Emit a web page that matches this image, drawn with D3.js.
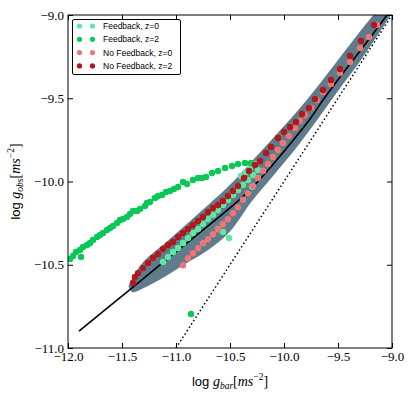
<!DOCTYPE html>
<html>
<head>
<meta charset="utf-8">
<title>RAR feedback</title>
<script src="https://d3js.org/d3.v7.min.js"></script>
<style>
  body { margin: 0; background: #fff; }
  .tick line { stroke: #000; }
</style>
</head>
<body>
<div id="chart"></div>
<script>
// series, [log gbar, log gobs]
var fbZ0 = [[-11.120,-10.483],[-11.074,-10.453],[-11.028,-10.423],[-10.981,-10.399],[-10.935,-10.369],
  [-10.889,-10.339],[-10.843,-10.309],[-10.796,-10.285],[-10.750,-10.255],[-10.704,-10.225],
  [-10.657,-10.201],[-10.611,-10.171],[-10.565,-10.141],[-10.519,-10.111],[-10.472,-10.081],
  [-10.426,-10.051],[-10.380,-10.021],[-10.333,-9.991],[-10.287,-9.961],[-10.241,-9.931],
  [-10.398,-9.967],[-10.352,-9.943],[-10.315,-9.919],[-10.269,-9.895],
  [-10.611,-10.285],[-10.565,-10.303],[-10.509,-10.339],[-10.296,-10.033]];

var fbZ2 = [[-11.981,-10.465],[-11.954,-10.447],[-11.926,-10.423],[-11.889,-10.411],[-11.861,-10.393],
  [-11.824,-10.381],[-11.796,-10.369],[-11.769,-10.351],[-11.731,-10.333],[-11.704,-10.321],
  [-11.676,-10.309],[-11.639,-10.291],[-11.611,-10.279],[-11.583,-10.267],[-11.546,-10.249],
  [-11.519,-10.231],[-11.491,-10.225],[-11.454,-10.213],[-11.426,-10.195],[-11.398,-10.177],
  [-11.361,-10.177],[-11.333,-10.165],[-11.287,-10.147],[-11.269,-10.129],[-11.241,-10.123],
  [-11.194,-10.099],[-11.167,-10.087],[-11.130,-10.081],[-11.093,-10.063],[-11.056,-10.057],
  [-11.019,-10.045],[-10.981,-10.033],[-10.935,-10.003],[-10.898,-10.015],[-10.843,-9.991],
  [-10.796,-9.979],[-10.759,-9.979],[-10.722,-9.973],[-10.667,-9.949],[-10.611,-9.937],
  [-10.546,-9.919],[-10.481,-9.907],[-10.426,-9.895],[-10.361,-9.889],[-10.306,-9.889],
  [-11.880,-10.453],[-10.861,-10.796]];

var nofbZ0 = [[-10.935,-10.503],[-10.889,-10.461],[-10.843,-10.431],[-10.796,-10.401],[-10.750,-10.371],
  [-10.704,-10.347],[-10.657,-10.317],[-10.611,-10.287],[-10.565,-10.257],[-10.519,-10.227],
  [-10.472,-10.191],[-10.426,-10.155],[-10.380,-10.110],[-10.333,-10.070],[-10.287,-10.027],
  [-10.241,-9.979],[-10.194,-9.937],[-10.148,-9.895],[-10.102,-9.853],[-10.056,-9.811],
  [-10.009,-9.769],[-9.954,-9.727],[-9.898,-9.679],[-9.852,-9.637],[-9.806,-9.601],
  [-9.750,-9.559],[-9.694,-9.511],[-9.639,-9.462],[-9.565,-9.414],[-9.481,-9.348],
  [-9.389,-9.282],[-9.296,-9.198],[-9.213,-9.132],[-9.139,-9.060]];

var nofbZ2 = [[-11.398,-10.610],[-11.380,-10.574],[-11.352,-10.550],[-11.306,-10.520],[-11.259,-10.489],
  [-11.213,-10.459],[-11.167,-10.435],[-11.120,-10.405],[-11.074,-10.381],[-11.028,-10.363],
  [-10.981,-10.333],[-10.935,-10.309],[-10.889,-10.285],[-10.843,-10.261],[-10.796,-10.237],
  [-10.750,-10.213],[-10.704,-10.183],[-10.657,-10.159],[-10.611,-10.141],[-10.565,-10.117],
  [-10.519,-10.087],[-10.472,-10.057],[-10.426,-10.027],[-10.370,-9.979],[-10.324,-9.937],
  [-10.269,-9.901],[-10.222,-9.877],[-10.167,-9.829],[-10.120,-9.793],[-10.056,-9.739],
  [-10.000,-9.703],[-9.944,-9.673],[-9.889,-9.643],[-9.833,-9.595],[-9.769,-9.559],
  [-9.713,-9.505],[-9.639,-9.450],[-9.565,-9.390],[-9.481,-9.324],[-9.389,-9.246],
  [-9.287,-9.156],[-9.167,-9.060]];

// observed scatter envelope (grey band): x, upper, lower
var bandX     = [-11.44, -11.40, -11.30, -11.10, -10.90, -10.70, -10.50, -10.30, -10.10, -9.90, -9.70, -9.50, -9.30, -9.15, -9.00];
var bandUpper = [-10.63, -10.575, -10.48, -10.37, -10.255, -10.14, -10.02, -9.88, -9.739, -9.595, -9.438, -9.270, -9.102, -8.98, -8.85];
var bandLower = [-10.63, -10.665, -10.64, -10.57, -10.49, -10.41, -10.30, -10.12, -9.965, -9.81, -9.637, -9.456, -9.282, -9.138, -8.99];

// fitted relation (solid) and one-to-one (dotted)
var fitLine = [[-11.898,-10.898],[-11.398,-10.634],[-11.000,-10.423],[-10.500,-10.159],[-10.315,-10.051],
  [-10.130,-9.919],[-9.944,-9.775],[-9.759,-9.625],[-9.639,-9.511],[-9.389,-9.294],
  [-9.204,-9.138],[-9.046,-9.000],[-9.000,-8.960]];
var oneToOne = [[-11.0,-11.0],[-9.0,-9.0]];

var xTicks = [-12.0, -11.5, -11.0, -10.5, -10.0, -9.5, -9.0];
var yTicks = [-11.0, -10.5, -10.0, -9.5, -9.0];

var series = [
  {name: "Feedback, z=0", data: fbZ0, color: "#5fe8a2"},
  {name: "Feedback, z=2", data: fbZ2, color: "#0ac756"},
  {name: "No Feedback, z=0", data: nofbZ0, color: "#ee7676"},
  {name: "No Feedback, z=2", data: nofbZ2, color: "#b3171b"}
];

var serif = "'Liberation Serif', 'Times New Roman', serif";
var sans = "'Liberation Sans', Arial, sans-serif";

var W = 415, H = 396;
var margin = {top: 15, right: 23, bottom: 48, left: 68};
var w = W - margin.left - margin.right, h = H - margin.top - margin.bottom;

var svg = d3.select("#chart").append("svg")
  .attr("width", W).attr("height", H);

svg.append("defs").append("clipPath").attr("id", "clip")
  .append("rect").attr("width", w).attr("height", h);

var g = svg.append("g").attr("transform", "translate(" + margin.left + "," + margin.top + ")");

var x = d3.scaleLinear().domain([-12, -9]).range([0, w]);
var y = d3.scaleLinear().domain([-11, -9]).range([h, 0]);

var plot = g.append("g").attr("clip-path", "url(#clip)");

// grey band
var bandArea = d3.area()
  .x(function(d, i) { return x(bandX[i]); })
  .y0(function(d, i) { return y(bandLower[i]); })
  .y1(function(d, i) { return y(bandUpper[i]); })
  .curve(d3.curveCatmullRom);

plot.append("path")
  .attr("d", bandArea(bandX))
  .attr("fill", "#5f7c8c");

var line = d3.line().x(function(d) { return x(d[0]); }).y(function(d) { return y(d[1]); });

plot.append("path")
  .attr("d", line.curve(d3.curveCatmullRom)(fitLine))
  .attr("fill", "none").attr("stroke", "#000").attr("stroke-width", 1.6);

plot.append("path")
  .attr("d", line.curve(d3.curveLinear)(oneToOne))
  .attr("fill", "none").attr("stroke", "#000").attr("stroke-width", 1.5)
  .attr("stroke-dasharray", "1.5,2.5");

series.forEach(function(s) {
  plot.append("g").selectAll("circle")
    .data(s.data)
    .join("circle")
    .attr("cx", function(d) { return x(d[0]); })
    .attr("cy", function(d) { return y(d[1]); })
    .attr("r", 3.2)
    .attr("fill", s.color);
});

// axes, ticks inward on every side
var fmt = d3.format(".1f");
function styleAxis(a) {
  a.select(".domain").remove();
  a.selectAll("text").attr("font-family", serif).attr("font-size", 13).attr("fill", "#000");
}
g.append("g").attr("transform", "translate(0," + h + ")")
  .call(d3.axisBottom(x).tickValues(xTicks).tickFormat(fmt).tickSizeInner(-5).tickSizeOuter(0).tickPadding(4))
  .call(styleAxis);
g.append("g")
  .call(d3.axisLeft(y).tickValues(yTicks).tickFormat(fmt).tickSizeInner(-5).tickSizeOuter(0).tickPadding(4))
  .call(styleAxis);
g.append("g")
  .call(d3.axisTop(x).tickValues(xTicks).tickFormat("").tickSizeInner(-5).tickSizeOuter(0))
  .call(styleAxis);
g.append("g").attr("transform", "translate(" + w + ",0)")
  .call(d3.axisRight(y).tickValues(yTicks).tickFormat("").tickSizeInner(-5).tickSizeOuter(0))
  .call(styleAxis);

g.append("rect").attr("width", w).attr("height", h)
  .attr("fill", "none").attr("stroke", "#000").attr("stroke-width", 1);

// axis labels
function mathLabel(sel, sub) {
  sel.append("tspan").attr("font-family", sans).attr("font-size", 13).text("log ");
  sel.append("tspan").attr("font-family", serif).attr("font-style", "italic").attr("font-size", 14).text("g");
  sel.append("tspan").attr("font-family", serif).attr("font-style", "italic").attr("font-size", 9.5).attr("dy", 3).text(sub);
  sel.append("tspan").attr("font-family", serif).attr("font-size", 14).attr("dy", -3).text("[");
  sel.append("tspan").attr("font-family", serif).attr("font-style", "italic").attr("font-size", 14).text("ms");
  sel.append("tspan").attr("font-family", serif).attr("font-size", 9.5).attr("dy", -6).text("\u22122");
  sel.append("tspan").attr("font-family", serif).attr("font-size", 14).attr("dy", 6).text("]");
}

svg.append("text")
  .attr("x", margin.left + w / 2).attr("y", 386)
  .attr("text-anchor", "middle")
  .call(mathLabel, "bar");

svg.append("text")
  .attr("transform", "translate(20," + (margin.top + h / 2) + ") rotate(-90)")
  .attr("text-anchor", "middle")
  .call(mathLabel, "obs");

// legend
var leg = svg.append("g");
leg.append("rect")
  .attr("x", 72.5).attr("y", 19.5).attr("width", 108).attr("height", 55).attr("rx", 1.5)
  .attr("fill", "#fff").attr("stroke", "#000").attr("stroke-width", 1);
series.forEach(function(s, i) {
  var cy = 26 + i * 13.3;
  [79.5, 92.5].forEach(function(cx) {
    leg.append("circle").attr("cx", cx).attr("cy", cy).attr("r", 2.6).attr("fill", s.color);
  });
  leg.append("text").attr("x", 103).attr("y", cy).attr("dy", "0.35em")
    .attr("font-family", sans).attr("font-size", 8.5).text(s.name);
});
</script>
</body>
</html>
